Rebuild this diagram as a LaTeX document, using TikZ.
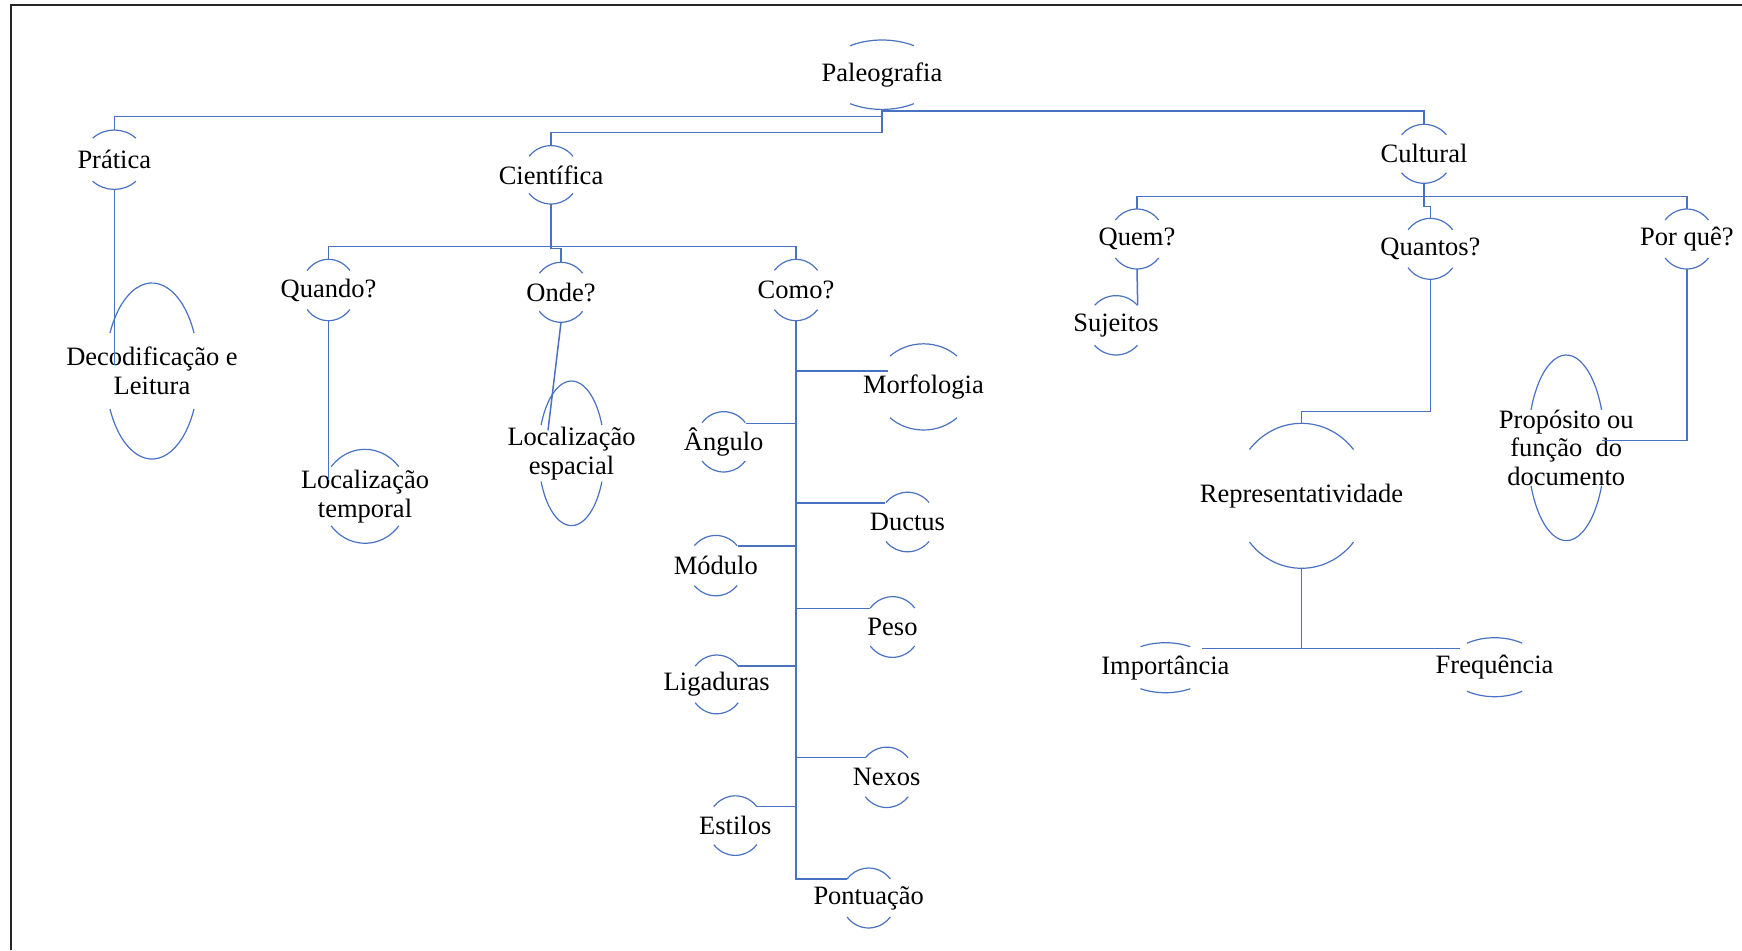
\documentclass[tikz,border=0pt]{standalone}
\usepackage{fontspec}
\setmainfont{Liberation Serif}
\usetikzlibrary{shapes.geometric}
\definecolor{lineblue}{HTML}{4A72C2}
\newcommand\capnode[7]{%
  \pgfmathsetmacro\capang{asin(#6/#5)}%
  \pgfmathsetmacro\caprx{#4*0.5}%
  \pgfmathsetmacro\capry{#5*0.5}%
  \node[ell, minimum width=#4pt, minimum height=#5pt] (#1) at (#2,-#3) {};
  \node[lbl] (#1t) at (#1.center) {#7};
  \draw[capline] ([shift={(\capang:\caprx pt and \capry pt)}]#1.center)
     arc[start angle=\capang, end angle=180-\capang, x radius=\caprx pt, y radius=\capry pt];
  \draw[capline] ([shift={(180+\capang:\caprx pt and \capry pt)}]#1.center)
     arc[start angle=180+\capang, end angle=360-\capang, x radius=\caprx pt, y radius=\capry pt];
}
\begin{document}
\begin{tikzpicture}[x=0.5pt, y=0.5pt,
  ell/.style={ellipse, draw=none, inner sep=0pt, outer sep=0pt},
  lbl/.style={inner sep=0pt, align=center, font=\fontsize{13.25}{14.4}\selectfont},
  capline/.style={draw=lineblue, line width=0.6pt},
  conn/.style={draw=lineblue, line width=0.75pt}]
\useasboundingbox (0,0) rectangle (1742,-950);
\fill[white] (0,0) rectangle (1742,-950);
\draw[black!85, line width=1.1pt] (11,-950) -- (11,-5) -- (1742,-5);

% nodes: name, x, y, rx, ry, h, text
\capnode{pal}{882}{74.7}{58}{34.7}{29}{Paleografia}
\capnode{prat}{114.3}{159.7}{31.3}{29.7}{21.5}{Prática}
\capnode{cient}{551}{174.8}{28.5}{29.2}{18.6}{Científica}
\capnode{cult}{1424}{153.8}{29.3}{29.5}{19}{Cultural}
\capnode{quando}{328.5}{290}{27.8}{30.7}{19.6}{Quando?}
\capnode{onde}{561}{292.3}{28}{30}{19}{Onde?}
\capnode{como}{796}{290}{28}{30.7}{19.6}{Como?}
\capnode{quem}{1137}{239}{28}{30}{19}{Quem?}
\capnode{quantos}{1430.4}{248.8}{28.5}{30.5}{19}{Quantos?}
\capnode{porque}{1686.8}{239}{28}{30}{19}{Por quê?}
\capnode{suj}{1116}{325.3}{29}{29.7}{20}{Sujeitos}
\capnode{deco}{152}{371}{46.6}{88}{38}{Decodificação e\\Leitura}
\capnode{ltemp}{365}{496.3}{43.5}{47}{29.6}{Localização\\temporal}
\capnode{lesp}{571.5}{453.3}{33}{72.3}{28.3}{Localização\\espacial}
\capnode{morf}{923.5}{386.9}{47.9}{43.1}{30.8}{Morfologia}
\capnode{ang}{723.7}{441.8}{28}{30.2}{19.2}{Ângulo}
\capnode{ductus}{907.5}{522}{28.5}{29.8}{19.5}{Ductus}
\capnode{modulo}{715.8}{565.6}{28.5}{30.2}{20}{Módulo}
\capnode{peso}{892.5}{627}{28.5}{30.4}{19}{Peso}
\capnode{lig}{716.7}{684.4}{27.5}{29.4}{18.3}{Ligaduras}
\capnode{nexos}{886.7}{777.3}{28}{30.2}{19.5}{Nexos}
\capnode{estilos}{735.3}{825.6}{28}{29.8}{19}{Estilos}
\capnode{pont}{868.7}{898}{28}{30}{19}{Pontuação}
\capnode{repr}{1301.5}{495.8}{67.6}{72.5}{46.3}{Representatividade}
\capnode{imp}{1165.4}{667.7}{45.9}{25}{21}{Importância}
\capnode{freq}{1494.6}{667.2}{47.4}{29.5}{24}{Frequência}
\capnode{prop}{1566.3}{447.8}{38.7}{92.8}{38}{Propósito ou\\função\ \ do\\documento}

% connector end points
\coordinate (decoin) at ([shift={(-38,6)}]deco.center);
\coordinate (ltempin) at ([shift={(-36.5,16.3)}]ltemp.center);
\coordinate (lespin) at ([shift={(-23.5,23)}]lesp.center);
\coordinate (morfin) at ([shift={(-35.5,16.1)}]morf.center);
\coordinate (angin) at ([shift={(22,18.5)}]ang.center);
\coordinate (ductin) at ([shift={(-22.5,19)}]ductus.center);
\coordinate (modin) at ([shift={(22.5,19.8)}]modulo.center);
\coordinate (pesoin) at ([shift={(-22.5,18.7)}]peso.center);
\coordinate (ligin) at ([shift={(21.6,18.6)}]lig.center);
\coordinate (nexin) at ([shift={(-21.7,19.8)}]nexos.center);
\coordinate (estin) at ([shift={(22,19.35)}]estilos.center);
\coordinate (pontin) at ([shift={(-22,19)}]pont.center);
\coordinate (sujin) at ([shift={(21.7,20.3)}]suj.center);
\coordinate (propin) at ([shift={(35.3,7.1)}]prop.center);
\coordinate (impin) at ([shift={(36.6,19.4)}]imp.center);
\coordinate (freqin) at ([shift={(-34.2,18.9)}]freq.center);

% connectors
\draw[conn] (pal.south) -- ++(0,-7.3) -| (prat.north);
\draw[conn] (pal.south) -- ++(0,-23.3) -| (cient.north);
\draw[conn] (pal.south) -- ++(0,-1.6) -| (cult.north);
\draw[conn] (cient.south) -- ++(0,-42.7) -| (quando.north);
\draw[conn] (cient.south) -- ++(0,-42.7) -| (como.north);
\draw[conn] (cient.south) -- ++(0,-44.3) -| (onde.north);
\draw[conn] (prat.south) -- (prat.south |- decoin);
\draw[conn] (quando.south) -- (quando.south |- ltempin);
\draw[conn] (onde.south) -- (lespin);
\draw[conn] (como.south) |- (pontin);
\draw[conn] (como.south) |- (morfin);
\draw[conn] (como.south) |- (angin);
\draw[conn] (como.south) |- (ductin);
\draw[conn] (como.south) |- (modin);
\draw[conn] (como.south) |- (pesoin);
\draw[conn] (como.south) |- (ligin);
\draw[conn] (como.south) |- (nexin);
\draw[conn] (como.south) |- (estin);
\draw[conn] (cult.south) -- ++(0,-13.4) -| (quem.north);
\draw[conn] (cult.south) -- ++(0,-13.4) -| (porque.north);
\draw[conn] (cult.south) -- ++(0,-23.4) -| (quantos.north);
\draw[conn] (quem.south) -- (sujin);
\draw[conn] (quantos.south) -- ++(0,-132.4) -| (repr.north);
\draw[conn] (porque.south) |- (propin);
\draw[conn] (repr.south) |- (impin);
\draw[conn] (repr.south) |- (freqin);
\end{tikzpicture}
\end{document}
